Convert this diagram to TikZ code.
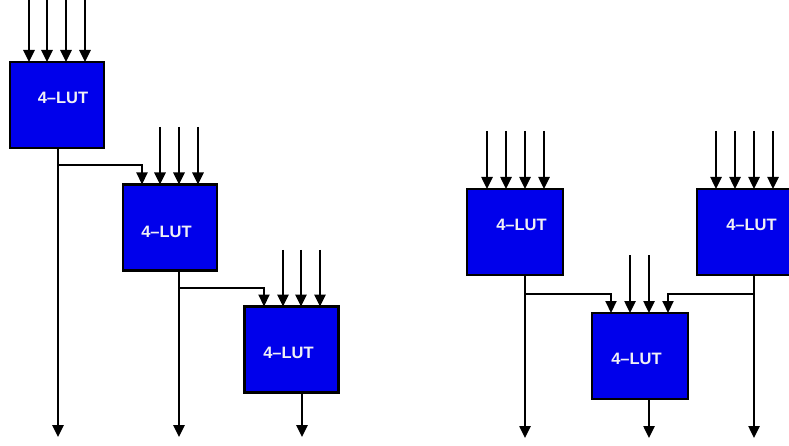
\documentclass[tikz,border=0pt]{standalone}
\usepackage{fontspec}
\setmainfont{Liberation Sans}
\usetikzlibrary{arrows.meta}
\definecolor{lutblue}{RGB}{0,0,235}
\definecolor{luttxt}{RGB}{240,240,245}
\begin{document}
\begin{tikzpicture}[x=1pt,y=-1pt,
  lut/.style={draw=black,line width=2.4pt,fill=lutblue,minimum width=94pt,minimum height=86pt,inner sep=0pt,outer sep=0pt},
  luttext/.style={text=luttxt,font=\fontsize{16.5}{16.5}\selectfont\bfseries,inner sep=0pt},
  arr/.style={line width=2.5pt,-{Triangle[width=11pt,length=12pt]}},
  brarr/.style={line width=2.1pt,-{Triangle[width=11pt,length=12pt]}}]
\useasboundingbox (0,0) rectangle (789,446);
% ---------- left chain ----------
\node[lut] (b1) at (57,105) {};
\node[lut] (b2) at (170,227.5) {};
\node[lut] (b3) at (291.5,349.5) {};
\node[luttext] (t1) at (63,98) {4--LUT};
\node[luttext] (t2) at (166.5,232) {4--LUT};
\node[luttext] (t3) at (288.5,353) {4--LUT};
% inputs box1
\foreach \x [count=\i] in {29,47,66,85} {
  \coordinate (a\i) at (\x,0);
  \draw[arr] (a\i) -- (a\i |- b1.north);
}
% inputs box2
\foreach \x [count=\i] in {160,179,198} {
  \coordinate (c\i) at (\x,127);
  \draw[arr] (c\i) -- (c\i |- b2.north);
}
% inputs box3
\foreach \x [count=\i] in {283,301,320} {
  \coordinate (d\i) at (\x,250);
  \draw[arr] (d\i) -- (d\i |- b3.north);
}
% outputs
\coordinate (o1) at (58,437);
\coordinate (o2) at (179,437);
\coordinate (o3) at (302,437);
\draw[arr] (o1 |- b1.south) -- (o1);
\draw[arr] (o2 |- b2.south) -- (o2);
\draw[arr] (o3 |- b3.south) -- (o3);
% branches
\coordinate (j1) at (58,165);
\coordinate (k1) at (142,165);
\draw[brarr] (j1) -- (k1) -- (k1 |- b2.north);
\coordinate (j2) at (179,288);
\coordinate (k2) at (264,288);
\draw[brarr] (j2) -- (k2) -- (k2 |- b3.north);
% ---------- right tree ----------
\node[lut,minimum width=96pt] (bA) at (515,232) {};
\node[lut,minimum width=96pt] (bB) at (745,232) {};
\node[lut,minimum width=96pt] (bC) at (640,356) {};
\node[luttext] (tA) at (521.5,225) {4--LUT};
\node[luttext] (tB) at (751.5,225) {4--LUT};
\node[luttext] (tC) at (636.5,359) {4--LUT};
\foreach \x [count=\i] in {487,506,525,544} {
  \coordinate (e\i) at (\x,131);
  \draw[arr] (e\i) -- (e\i |- bA.north);
}
\foreach \x [count=\i] in {716,735,754,773} {
  \coordinate (f\i) at (\x,131);
  \draw[arr] (f\i) -- (f\i |- bB.north);
}
\foreach \x [count=\i] in {630,649} {
  \coordinate (g\i) at (\x,255);
  \draw[arr] (g\i) -- (g\i |- bC.north);
}
\coordinate (oA) at (525,438);
\coordinate (oB) at (754,438);
\coordinate (oC) at (649,438);
\draw[arr] (oA |- bA.south) -- (oA);
\draw[arr] (oB |- bB.south) -- (oB);
\draw[arr] (oC |- bC.south) -- (oC);
\coordinate (jA) at (525,294);
\coordinate (kA) at (611,294);
\draw[brarr] (jA) -- (kA) -- (kA |- bC.north);
\coordinate (jB) at (754,294);
\coordinate (kB) at (668,294);
\draw[brarr] (jB) -- (kB) -- (kB |- bC.north);
\end{tikzpicture}
\end{document}
